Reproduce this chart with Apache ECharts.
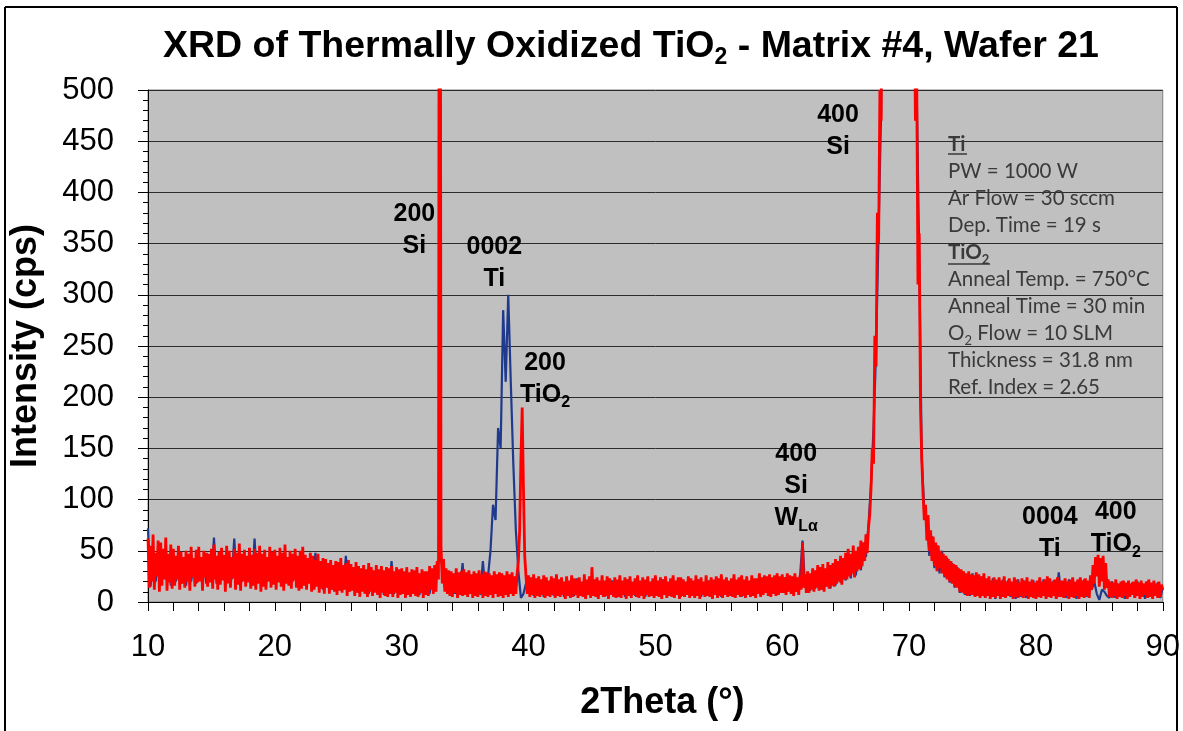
<!DOCTYPE html>
<html><head><meta charset="utf-8">
<script src="https://cdn.jsdelivr.net/npm/echarts@6/dist/echarts.min.js"></script>
<style>html,body{margin:0;padding:0;background:#fff}#c{width:1183px;height:731px}</style>
</head><body><div id="c"></div>
<script>
// ---- data ----
const thetaStart = 10;                 // 2Theta start (deg)
const redStep = 0.1, blueStep = 0.2;   // scan steps (deg), both end at 90.0
// Thermally oxidized TiO2 (red), counts per 0.1 deg step, one row per degree
const redCounts = [
  62,14,55,20,66,12,48,25,60,10,
  58,16,52,22,63,11,47,19,56,13,
  52,16,45,22,55,12,49,18,44,14,
  50,20,47,11,54,24,43,15,51,19,
  54,20,44,11,50,24,48,15,47,19,
  52,13,56,22,45,12,49,17,53,21,
  46,10,55,18,50,14,44,23,52,12,
  48,17,57,11,47,20,51,15,45,19,
  53,13,46,16,52,12,48,18,55,10,
  47,15,51,12,44,20,54,14,49,17,
  51,12,45,19,53,15,48,11,56,18,
  44,16,50,13,47,21,52,14,45,11,
  50,13,54,16,46,12,43,18,48,10,
  45,12,41,15,47,9,40,13,43,8,
  42,14,38,8,41,12,36,10,40,7,
  39,11,43,9,36,12,38,6,41,10,
  37,11,34,6,39,9,35,5,33,10,
  36,8,32,5,38,10,34,6,31,9,
  36,7,32,4,35,9,31,6,34,5,
  33,8,35,5,30,9,34,4,32,7,
  33,8,30,4,34,7,29,5,32,8,
  31,6,34,5,28,9,32,4,30,7,
  30,6,35,12,33,8,36,10,40,22,
  1300,55,18,42,10,33,8,31,6,30,
  5,28,9,33,4,29,7,30,6,32,
  7,29,5,31,8,27,4,30,6,28,
  5,31,8,27,4,30,6,29,5,28,
  7,26,4,30,8,27,5,29,6,28,
  4,26,7,30,5,27,8,29,6,25,
  8,28,40,70,140,190,110,45,25,8,
  26,5,24,7,27,4,23,6,25,5,
  22,7,26,4,24,6,21,5,25,7,
  23,4,27,6,22,5,24,7,20,3,
  25,6,21,4,26,5,23,7,22,4,
  24,6,20,5,27,3,22,7,25,4,
  34,6,22,5,24,3,21,7,26,5,
  21,6,25,3,23,7,20,5,24,4,
  22,5,26,4,21,7,24,3,22,6,
  25,4,20,7,23,5,26,4,21,6,
  24,3,22,7,25,5,20,6,23,4,
  26,6,21,5,24,3,22,7,25,4,
  20,6,23,5,26,4,21,7,24,3,
  24,6,22,5,20,7,25,4,23,6,
  21,4,26,6,22,3,24,7,20,5,
  26,6,21,5,24,3,22,7,25,4,
  23,6,27,4,22,7,24,5,21,6,
  23,5,27,4,22,7,24,5,26,6,
  22,4,25,7,21,5,26,6,23,4,
  23,8,28,5,24,7,26,9,25,6,
  27,5,24,8,26,6,28,7,25,9,
  27,9,24,7,28,10,26,8,25,6,
  28,10,24,7,26,12,58,14,27,9,
  30,9,28,12,33,10,31,14,36,11,
  34,12,37,10,33,15,39,13,36,16,
  38,15,42,18,40,20,45,17,43,22,
  48,22,52,25,47,28,55,24,50,30,
  54,32,60,35,58,40,66,48,72,85,
  110,150,135,260,230,380,350,500,470,760,
  950,1200,1500,1900,2400,3000,4000,5000,6000,7000,
  8000,9000,9500,9000,8000,7000,6000,5000,4000,3000,
  2000,1500,1100,800,620,470,520,310,360,190,
  140,105,80,95,60,85,50,70,40,64,
  35,58,30,55,33,50,28,47,25,45,
  22,42,20,40,18,37,15,36,14,33,
  10,32,9,30,8,28,6,30,7,27,
  7,26,5,29,6,27,4,25,6,28,
  4,23,6,25,3,21,5,24,4,22,
  6,24,3,21,5,25,4,20,6,23,
  6,20,3,24,5,22,4,19,6,23,
  4,21,6,24,3,20,5,22,4,19,
  3,21,5,24,4,20,6,22,3,25,
  5,23,4,20,6,22,3,24,5,21,
  5,21,4,23,6,20,3,22,5,24,
  4,20,6,22,3,24,5,21,4,23,
  6,21,4,26,12,36,18,44,25,46,
  15,43,20,45,12,38,14,22,5,20,
  4,19,6,22,3,18,5,20,4,21,
  6,19,3,21,5,18,7,20,4,22,
  6,19,3,21,5,18,7,20,4,22,
  5,19,3,21,6,18,4,20,5,17,
  12
];
// As-deposited Ti (blue), counts per 0.2 deg step, one row per 2 degrees
const blueCounts = [
  72,15,45,20,40,18,48,22,42,16,
  40,20,38,18,42,16,39,20,36,18,
  38,22,40,18,44,20,63,18,38,22,
  40,20,42,22,62,18,38,20,41,22,
  38,16,62,20,40,22,36,20,42,18,
  38,22,40,18,37,24,40,20,38,22,
  42,18,40,20,37,16,48,18,33,12,
  34,14,32,12,33,14,30,12,45,10,
  30,12,28,9,31,11,29,8,27,12,
  29,9,26,7,28,10,40,8,27,8,
  26,9,25,7,27,8,24,7,26,9,
  25,8,28,12,34,45,36,13,27,9,
  25,8,23,10,38,7,24,9,25,8,
  23,7,40,9,24,50,95,80,170,150,
  285,215,300,215,135,70,30,4,8,18,
  8,20,6,22,9,20,5,21,8,19,
  6,20,8,22,5,19,7,21,6,23,
  8,19,5,21,7,20,6,22,8,19,
  5,20,7,21,6,19,8,20,5,22,
  7,19,6,21,8,20,5,19,7,21,
  6,20,5,22,8,19,6,21,7,20,
  5,19,8,21,6,20,7,22,5,19,
  7,21,6,20,8,19,5,21,7,20,
  6,22,8,19,5,21,7,20,6,22,
  8,20,7,22,9,21,8,23,10,22,
  9,24,10,22,11,25,12,24,60,14,
  27,11,26,13,30,12,29,15,33,13,
  35,16,38,19,37,21,44,23,48,26,
  46,31,58,44,75,115,170,245,365,480,
  900,1400,2200,3600,5500,7500,8500,7500,5500,3600,
  2000,1100,620,500,340,140,90,80,45,64,
  33,55,28,50,24,43,19,38,14,34,
  9,30,7,27,6,28,6,25,5,25,
  4,22,5,23,3,20,5,22,4,21,
  5,19,3,22,5,21,4,18,5,21,
  3,20,5,22,4,19,5,21,3,29,
  5,20,4,22,5,19,3,21,5,22,
  5,18,12,20,8,2,12,10,6,4,
  20,4,18,6,20,3,17,5,19,4,
  20,6,18,3,20,5,17,6,19,4,
  14
];
// Peak annotations ("_" marks a subscript)
const annoTheta  = [31.0, 37.3, 41.3, 64.4, 61.1, 81.1, 86.3];
const annoCounts = [363, 331, 218, 460, 113, 67, 72];
const annoLines  = [
  ['200', 'Si'], ['0002', 'Ti'], ['200', 'TiO_2'], ['400', 'Si'],
  ['400', 'Si', 'W_Lα'], ['0004', 'Ti'], ['400', 'TiO_2']
];
// Process parameters text box
const infoLines = [
  ['h', 'Ti'], ['t', 'PW = 1000 W'], ['t', 'Ar Flow = 30 sccm'], ['t', 'Dep. Time = 19 s'],
  ['h', 'TiO_2'], ['t', 'Anneal Temp. = 750°C'], ['t', 'Anneal Time = 30 min'],
  ['t', 'O_2 Flow = 10 SLM'], ['t', 'Thickness = 31.8 nm'], ['t', 'Ref. Index = 2.65']
];
const titleText = 'XRD of Thermally Oxidized TiO_2 - Matrix #4, Wafer 21';
const xName = '2Theta (°)', yName = 'Intensity (cps)';

// ---- build ----
const FONT = "'Liberation Sans', Arial, sans-serif";
const toPairs = (arr, step) => arr.map((v, i) => [+(thetaStart + i * step).toFixed(2), v]);
if (redCounts.length !== 801 || blueCounts.length !== 401) console.error('len', redCounts.length, blueCounts.length);

// turn "TiO_2 rest" into rich markup, subscript = first token after "_"
function richLine(s, main, sub) {
  const parts = s.split('_');
  let out = `{${main}|${parts[0]}}`;
  for (let k = 1; k < parts.length; k++) {
    const m = parts[k].match(/^(\S+)(.*)$/);
    out += `{${sub}|${m[1]}}`;
    if (m[2]) out += `{${main}|${m[2]}}`;
  }
  return out;
}

const chart = echarts.init(document.getElementById('c'), null, {renderer: 'canvas'});
const option = {
  animation: false,
  backgroundColor: '#ffffff',
  grid: {left: 143, right: 20, top: 90, bottom: 129, show: true,
         backgroundColor: '#c0c0c0', borderColor: '#7f7f7f', borderWidth: 1},
  xAxis: {
    type: 'value', min: 10, max: 90, interval: 10,
    name: xName, nameLocation: 'middle', nameGap: 83,
    nameTextStyle: {fontFamily: FONT, fontSize: 36, fontWeight: 'bold', color: '#000', padding: [0, 0, 0, 14]},
    axisLine: {show: true, onZero: false, lineStyle: {color: '#000', width: 1}},
    axisTick: {show: true, length: 9, lineStyle: {color: '#000'}},
    minorTick: {show: true, splitNumber: 5, length: 9, lineStyle: {color: '#000'}},
    axisLabel: {fontFamily: FONT, fontSize: 31, color: '#000', margin: 30, showMinLabel: true, showMaxLabel: true},
    splitLine: {show: false}
  },
  yAxis: {
    type: 'value', min: 0, max: 500, interval: 50,
    name: yName, nameLocation: 'middle', nameGap: 104,
    nameTextStyle: {fontFamily: FONT, fontSize: 36, fontWeight: 'bold', color: '#000'},
    axisLine: {show: true, lineStyle: {color: '#000', width: 1}},
    axisTick: {show: true, length: 10, lineStyle: {color: '#000'}},
    minorTick: {show: true, splitNumber: 5, length: 5, lineStyle: {color: '#000'}},
    axisLabel: {fontFamily: FONT, fontSize: 31, color: '#000', margin: 34},
    splitLine: {show: true, lineStyle: {color: '#2b2b2b', width: 1}}
  },
  series: [
    {type: 'line', name: 'Ti', data: toPairs(blueCounts, blueStep), symbol: 'none', showSymbol: false,
     lineStyle: {color: '#1f3a8c', width: 2.2}, z: 2, silent: true},
    {type: 'line', name: 'TiO2', data: toPairs(redCounts, redStep), symbol: 'none', showSymbol: false,
     lineStyle: {color: '#ff0000', width: 2.8, join: 'bevel'}, z: 3, silent: true,
     markPoint: {
       symbol: 'rect', symbolSize: 1, silent: true,
       itemStyle: {color: 'rgba(0,0,0,0)'},
       label: {show: true, position: 'inside', color: '#000',
         rich: {
           b: {fontFamily: FONT, fontSize: 25, fontWeight: 'bold', color: '#000', lineHeight: 32},
           s: {fontFamily: FONT, fontSize: 16, fontWeight: 'bold', color: '#000', lineHeight: 18, verticalAlign: 'bottom'}
         }},
       data: annoTheta.map((t, i) => ({
         coord: [t, annoCounts[i]],
         label: {formatter: annoLines[i].map(l => richLine(l, 'b', 's')).join('\n')}
       }))
     }}
  ],
  graphic: [
    {type: 'text', x: 631, y: 47, z: 10, silent: true,
     style: {text: richLine(titleText, 't', 's'), align: 'center', verticalAlign: 'middle',
       rich: {
         t: {fontFamily: FONT, fontSize: 37.5, fontWeight: 'bold', fill: '#000', lineHeight: 44},
         s: {fontFamily: FONT, fontSize: 23, fontWeight: 'bold', fill: '#000', lineHeight: 22, verticalAlign: 'bottom'}
       }}},
    {type: 'text', x: 948, y: 131, z: 10, silent: true,
     style: {text: infoLines.map(([k, s]) => richLine(s, k, k + 's')).join('\n'), align: 'left', verticalAlign: 'top',
       rich: {
         h: {fontFamily: 'Lato', fontSize: 20.5, fontWeight: 'bold', fill: '#3a3a3a', lineHeight: 27},
         hs: {fontFamily: 'Lato', fontSize: 13, fontWeight: 'bold', fill: '#3a3a3a', lineHeight: 13, verticalAlign: 'bottom'},
         t: {fontFamily: 'Lato', fontSize: 20.5, fill: '#3a3a3a', lineHeight: 27},
         ts: {fontFamily: 'Lato', fontSize: 13, fill: '#3a3a3a', lineHeight: 13, verticalAlign: 'bottom'}
       }}},
    {type: 'line', z: 10, silent: true, shape: {x1: 948, y1: 154, x2: 967, y2: 154}, style: {stroke: '#3a3a3a', lineWidth: 1.5}},
    {type: 'line', z: 10, silent: true, shape: {x1: 948, y1: 264, x2: 990, y2: 264}, style: {stroke: '#3a3a3a', lineWidth: 1.5}},
    {type: 'line', z: 10, silent: true, shape: {x1: 5, y1: 7, x2: 1177, y2: 7}, style: {stroke: '#000', lineWidth: 2}},
    {type: 'line', z: 10, silent: true, shape: {x1: 5, y1: 7, x2: 5, y2: 731}, style: {stroke: '#000', lineWidth: 2}},
    {type: 'line', z: 10, silent: true, shape: {x1: 1177, y1: 7, x2: 1177, y2: 731}, style: {stroke: '#000', lineWidth: 2}}
  ]
};
chart.setOption(option);
</script>
</body></html>
